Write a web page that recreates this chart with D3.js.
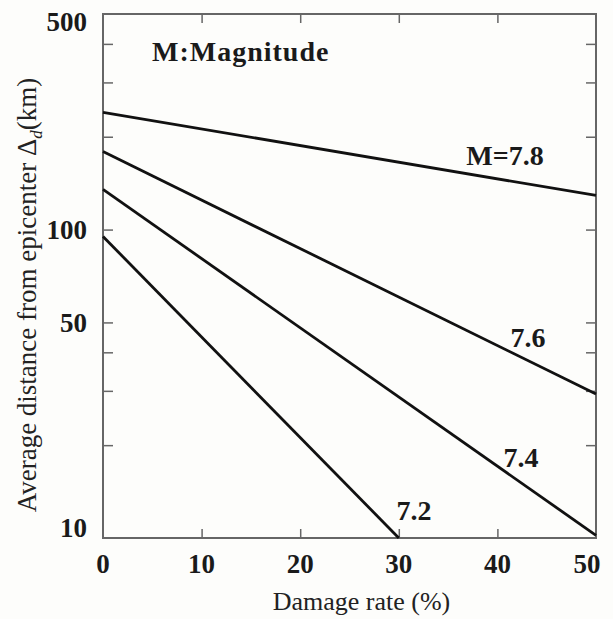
<!DOCTYPE html>
<html>
<head>
<meta charset="utf-8">
<script src="https://cdn.jsdelivr.net/npm/d3@7"></script>
<style>
    body { margin: 0; background: #fdfdfb; }
    svg { display: block; font-family: "Liberation Serif", "Times New Roman", serif; }
</style>
</head>
<body>
<script>
// values
const magnitudes = ["7.8", "7.6", "7.4", "7.2"];
const startRate = [0, 0, 0, 0];
const startDist = [240, 179, 135, 95];
const endRate = [50, 50, 50, 30];
const endDist = [129, 29.3, 10.2, 10];

const xTicks = [0, 10, 20, 30, 40, 50];
const yTicks = [10, 20, 30, 40, 50, 100, 200, 300, 400, 500];
const yLabels = [10, 50, 100, 500];

const width = 613;
const height = 619;

const svg = d3
    .select("body")
    .append("svg")
    .attr("width", width)
    .attr("height", height);

const x = d3.scaleLinear().domain([0, 50]).range([103, 596]);
const y = d3.scaleLog().domain([10, 500]).range([538, 14]);

const axisColour = "#666";

// ticks on all four sides, pointing inward
const frame = svg.append("g").attr("class", "frame");

frame.append("g")
    .attr("transform", `translate(0,${y(10)})`)
    .call(d3.axisBottom(x).tickValues(xTicks.slice(1, -1)).tickSize(-9).tickFormat(""));
frame.append("g")
    .attr("transform", `translate(0,${y(500)})`)
    .call(d3.axisTop(x).tickValues(xTicks.slice(1, -1)).tickSize(-9).tickFormat(""));
frame.append("g")
    .attr("transform", `translate(${x(0)},0)`)
    .call(d3.axisLeft(y).tickValues(yTicks.slice(1, -1)).tickSize(-10).tickFormat(""));
frame.append("g")
    .attr("transform", `translate(${x(50)},0)`)
    .call(d3.axisRight(y).tickValues(yTicks.slice(1, -1)).tickSize(-10).tickFormat(""));

frame.selectAll(".domain").remove();
frame.selectAll(".tick line").attr("stroke", axisColour).attr("stroke-width", 1.5);

frame.append("rect")
    .attr("x", x(0))
    .attr("y", y(500))
    .attr("width", x(50) - x(0))
    .attr("height", y(10) - y(500))
    .attr("fill", "none")
    .attr("stroke", axisColour)
    .attr("stroke-width", 2);

// tick labels (end labels pulled in a little, as in the figure)
svg.append("g")
    .selectAll("text")
    .data(xTicks)
    .join("text")
    .attr("x", (d) => Math.min(x(d), x(50) - 9))
    .attr("y", 573)
    .attr("text-anchor", "middle")
    .attr("font-size", 27)
    .attr("font-weight", "bold")
    .attr("fill", "#1a1a1a")
    .text((d) => d);

svg.append("g")
    .selectAll("text")
    .data(yLabels)
    .join("text")
    .attr("x", 87)
    .attr("y", (d) => Math.min(Math.max(y(d), y(500) + 8), y(10) - 10))
    .attr("dy", "0.35em")
    .attr("text-anchor", "end")
    .attr("font-size", 27)
    .attr("font-weight", "bold")
    .attr("fill", "#1a1a1a")
    .text((d) => d);

// axis titles
svg.append("text")
    .attr("x", (x(0) + x(50)) / 2 + 12)
    .attr("y", 610)
    .attr("text-anchor", "middle")
    .attr("font-size", 26)
    .attr("fill", "#222")
    .text("Damage rate (%)");

const yTitle = svg.append("text")
    .attr("transform", "translate(36,295) rotate(-90)")
    .attr("text-anchor", "middle")
    .attr("font-size", 27)
    .attr("fill", "#222");
yTitle.append("tspan").text("Average distance from epicenter \u0394");
yTitle.append("tspan").attr("font-size", 17).attr("font-style", "italic").attr("dy", 6).text("d");
yTitle.append("tspan").attr("dy", -6).text("(km)");

// lines
const line = d3.line().x((d) => x(d[0])).y((d) => y(d[1]));

svg.append("g")
    .selectAll("path")
    .data(magnitudes.map((m, i) => [[startRate[i], startDist[i]], [endRate[i], endDist[i]]]))
    .join("path")
    .attr("d", line)
    .attr("fill", "none")
    .attr("stroke", "#111")
    .attr("stroke-width", 2.8);

// line labels
const labelPos = [
    { x: 505, y: 165, text: "M=7.8" },
    { x: 528, y: 347, text: "7.6" },
    { x: 521, y: 467, text: "7.4" },
    { x: 414, y: 520, text: "7.2" },
];
svg.append("g")
    .selectAll("text")
    .data(labelPos)
    .join("text")
    .attr("x", (d) => d.x)
    .attr("y", (d) => d.y)
    .attr("text-anchor", "middle")
    .attr("font-size", 28)
    .attr("font-weight", "bold")
    .attr("fill", "#1a1a1a")
    .text((d) => d.text);

svg.append("text")
    .attr("x", 152)
    .attr("y", 61)
    .attr("font-size", 28)
    .attr("font-weight", "bold")
    .attr("letter-spacing", 1)
    .attr("fill", "#1a1a1a")
    .text("M:Magnitude");
</script>
</body>
</html>
